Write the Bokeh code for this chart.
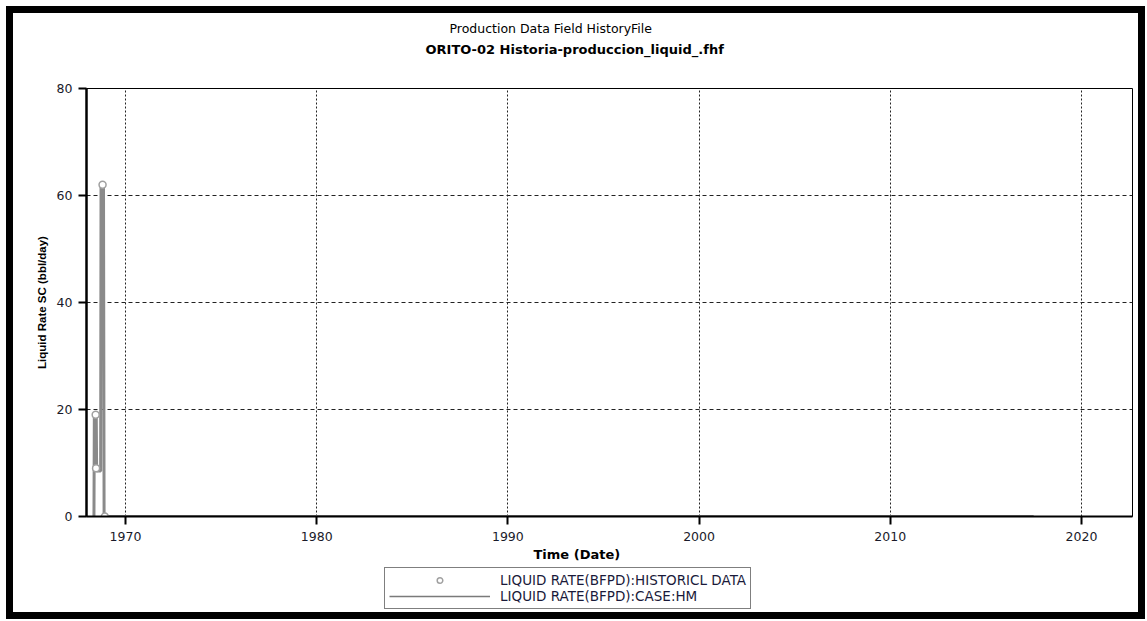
from bokeh.plotting import figure
from bokeh.layouts import column
from bokeh.models import Legend, LegendItem, FixedTicker, Range1d, Title
from bokeh.embed import file_html
from bokeh.resources import INLINE

# ---- data ----
title_top = "Production Data Field HistoryFile"
title_main = "ORITO-02 Historia-produccion_liquid_.fhf"
x_label = "Time (Date)"
y_label = "Liquid Rate SC (bbl/day)"
x_ticks = [1970, 1980, 1990, 2000, 2010, 2020]
y_ticks = [0, 20, 40, 60, 80]

# historical data points (year, bbl/day)
hist_t = [1968.44, 1968.46, 1968.80, 1968.92]
hist_v = [19, 9, 62, 0]

# case HM line
hm_t = [1968.35, 1968.37, 1968.47, 1968.49, 1968.70, 1968.72, 1968.85, 1968.88, 2017.5]
hm_v = [0, 19, 19, 8.5, 8.5, 62, 62, 0, 0]

hist_name = "LIQUID RATE(BFPD):HISTORICL DATA"
hm_name = "LIQUID RATE(BFPD):CASE:HM"

FONT = "DejaVu Sans"
LINE_COLOR = "#8a8a8a"
PT_LINE = "#a0a0a0"

W = 1125

p = figure(width=W, height=549, output_backend="svg", toolbar_location=None,
           x_range=Range1d(1967.96, 2022.67), y_range=Range1d(0, 80),
           min_border_left=73, min_border_right=6, min_border_top=75, min_border_bottom=45,
           background_fill_color="white", border_fill_color="white")

p.outline_line_color = "black"
p.outline_line_width = 1

p.xaxis.ticker = FixedTicker(ticks=x_ticks)
p.yaxis.ticker = FixedTicker(ticks=y_ticks)
for ax in (p.xaxis[0], p.yaxis[0]):
    ax.axis_line_color = "black"
    ax.axis_line_width = 2
    ax.major_tick_line_color = "black"
    ax.major_tick_line_width = 2
    ax.major_tick_out = 8
    ax.major_tick_in = 0
    ax.minor_tick_line_color = None
    ax.major_label_text_font = FONT
    ax.major_label_text_font_size = "12.5px"
    ax.major_label_text_color = "#1a1a2a"
p.yaxis.axis_line_width = 2.5
p.xaxis.major_label_standoff = 7
p.yaxis.major_label_standoff = 6

p.yaxis.axis_label = y_label
p.yaxis.axis_label_text_font = "Liberation Sans"
p.yaxis.axis_label_text_font_style = "bold"
p.yaxis.axis_label_text_font_size = "11.5px"
p.yaxis.axis_label_text_color = "black"
p.yaxis.axis_label_standoff = 6

p.xgrid.grid_line_color = "#222222"
p.xgrid.grid_line_dash = "2 2"
p.xgrid.grid_line_width = 1
p.ygrid.grid_line_color = "#222222"
p.ygrid.grid_line_dash = "4 3"
p.ygrid.grid_line_width = 1

p.line(hm_t, hm_v, line_color=LINE_COLOR, line_width=3)
p.scatter(hist_t, hist_v, marker="circle", size=7, fill_color="white",
          line_color=PT_LINE, line_width=1.5)

# titles (closest to the frame first): spacer, main title, top title
p.add_layout(Title(text=" ", text_font=FONT, text_font_size="10px", standoff=17), "above")
p.add_layout(Title(text=title_main, align="left", offset=339, text_font=FONT,
                   text_font_size="13px", text_font_style="bold", text_color="black",
                   standoff=4), "above")
p.add_layout(Title(text=title_top, align="left", offset=363, text_font=FONT,
                   text_font_size="12.5px", text_font_style="normal", text_color="black",
                   standoff=4), "above")

# x axis label as a title below the axis
p.add_layout(Title(text=x_label, align="left", offset=447, text_font=FONT,
                   text_font_size="13px", text_font_style="bold", text_color="black",
                   standoff=2), "below")

# ---- legend strip ----
p2 = figure(width=W, height=50, output_backend="svg", toolbar_location=None,
            x_range=Range1d(0, W), y_range=Range1d(0, 50),
            min_border=0, min_border_left=0, min_border_right=0,
            min_border_top=0, min_border_bottom=0,
            background_fill_color="white", border_fill_color="white")
p2.axis.visible = False
p2.grid.visible = False
p2.outline_line_color = None
# legend sample glyphs (kept out of the visible range)
ln2 = p2.line([-20, -10], [-20, -20], line_color="#7a7a7a", line_width=1.5)
circ2 = p2.scatter([-20], [-20], marker="circle", size=7, fill_color="white",
                   line_color=PT_LINE, line_width=1.5)

legend = Legend(items=[LegendItem(label=hist_name, renderers=[circ2]),
                       LegendItem(label=hm_name, renderers=[ln2])],
                location=(298, 3), glyph_width=101, glyph_height=14,
                label_height=14, label_standoff=10, padding=4, spacing=0, margin=0,
                border_line_color="black", border_line_width=1,
                label_text_font=FONT, label_text_font_size="13.5px",
                label_text_color="#1a1a3a", background_fill_alpha=1)
p2.add_layout(legend, "center")

layout = column(p, p2, spacing=0, width=W + 14, height=613)
layout.styles = {"margin-left": "6px", "margin-top": "6px", "border": "7px solid black",
                 "background-color": "white"}

open("out.html", "w").write(file_html(layout, INLINE))
